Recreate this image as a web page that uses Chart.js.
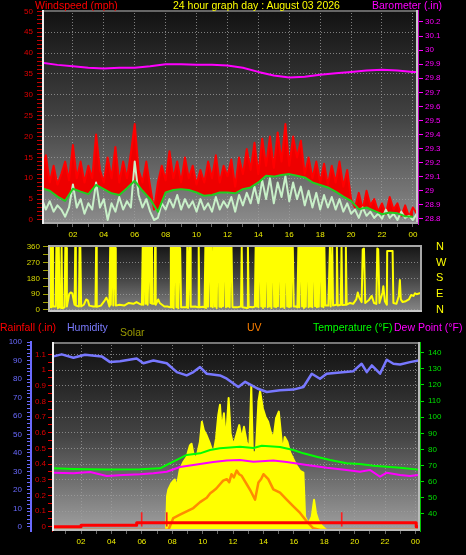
<!DOCTYPE html>
<html>
<head>
<meta charset="utf-8">
<title>24 hour graph</title>
<script src="https://cdn.jsdelivr.net/npm/chart.js@4.4.1/dist/chart.umd.min.js"></script>
<style>
  body { margin: 0; background: #000; }
  #page { position: relative; width: 466px; height: 555px; overflow: hidden; background: #000; font-family: "Liberation Sans", Arial, sans-serif; }
  canvas { position: absolute; left: 0; }
  .title { position: absolute; font-size: 10.5px; line-height: 12px; white-space: nowrap; }
</style>
</head>
<body>
<div id="page">
  <canvas id="wind-chart" width="466" height="242" style="top:0px"></canvas>
  <canvas id="dir-chart" width="466" height="78" style="top:240px"></canvas>
  <canvas id="sky-chart" width="466" height="219" style="top:336px"></canvas>

  <div class="title" style="left:35px;top:-1px;color:#ff0000">Windspeed (mph)</div>
  <div class="title" style="left:173px;top:-1px;color:#ffff00">24 hour graph day : August 03 2026</div>
  <div class="title" style="left:372px;top:-1px;color:#ff00ff">Barometer (.in)</div>

  <div class="title" style="left:0px;top:321px;color:#ff0000">Rainfall (.in)</div>
  <div class="title" style="left:67px;top:321px;color:#7b7bff">Humidity</div>
  <div class="title" style="left:120px;top:326px;color:#9a9a00">Solar</div>
  <div class="title" style="left:247px;top:321px;color:#ff8000">UV</div>
  <div class="title" style="left:313px;top:321px;color:#00ff00">Temperature (°F)</div>
  <div class="title" style="left:394px;top:321px;color:#ff00ff">Dew Point (°F)</div>
</div>

<script>
// ---------- tick labels ----------
const hourLabels = ['02', '04', '06', '08', '10', '12', '14', '16', '18', '20', '22', '00'];
const windTicks = [0, 5, 10, 15, 20, 25, 30, 35, 40, 45, 50];
const baroTicks = [28.8, 28.9, 29, 29.1, 29.2, 29.3, 29.4, 29.5, 29.6, 29.7, 29.8, 29.9, 30, 30.1, 30.2];
const dirTicks = [0, 90, 180, 270, 360];
const compassLabels = ['N', 'E', 'S', 'W', 'N'];
const tempTicks = [40, 50, 60, 70, 80, 90, 100, 110, 120, 130, 140];

// ---------- top panel: wind (mph) every 15 minutes ----------
const windHours = Array.from({ length: 98 }, (_, i) => i * 0.25);
const gustSpeed = [
  12, 15.5, 9, 13, 8.5, 11, 14, 9.5,
  18, 10, 14, 9, 13, 10, 20.5, 12,
  9, 15, 10, 17.5, 9, 14, 10, 16,
  23, 12, 9, 14, 8, 2.5, 9, 13,
  9.5, 16.5, 10, 14, 9, 15, 10, 13,
  8.5, 12, 9, 14, 10, 15.5, 9, 13,
  10.5, 14.5, 8, 15, 11, 17, 12, 18.5,
  11, 19.5, 13, 20, 12.5, 21, 14, 23,
  13, 20, 15, 19, 11, 15, 10, 14,
  9, 13.5, 8.5, 13, 9, 14, 8, 12,
  5, 3, 6.5, 2.5, 7, 3.5, 5, 2,
  4, 1.5, 5.5, 2.5, 4, 1, 3.5, 0.8,
  3, 1.5
];
const windSpeed = [
  5, 2.5, 4.5, 2, 3.5, 2.5, 0.8, 3,
  8.5, 3, 5, 1.5, 4, 2.5, 9, 3,
  5, 0, 4, 2, 5.5, 2.5, 4.5, 3,
  14, 6, 3, 5, 2, 0, 0.5, 4,
  2.5, 5, 3, 6, 2.5, 5, 3, 4.5,
  2, 5, 2.5, 4, 2, 5.5, 2.5, 4.5,
  3, 5.5, 2, 6, 3.5, 6.5, 4, 8,
  4, 9.5, 5, 10, 4, 9, 5.5, 10.5,
  4.5, 9, 5, 8, 3.5, 7, 3, 6.5,
  2.5, 6, 3, 5.5, 2.5, 5, 2, 4,
  1.5, 2.5, 0.5, 3, 1, 2, 0.5, 1.5,
  0.3, 2.5, 0.5, 1.5, 0, 2, 0.5, 1,
  0, 1.5
];
// average speed every 30 minutes
const avgHours = Array.from({ length: 49 }, (_, i) => i * 0.5);
const avgSpeed = [
  7.6, 7.0, 5.6, 4.6, 7.5, 6.8, 6.2, 8.4, 7.4, 6.4, 6.0, 7.6,
  9.4, 7.0, 5.0, 2.0, 6.6, 7.2, 7.4, 7.2, 6.6, 5.8, 6.0, 6.6,
  6.6, 6.4, 7.4, 7.8, 9.0, 10.6, 10.4, 10.8, 11.0, 10.6, 10.2, 9.0,
  8.4, 7.8, 6.8, 5.6, 4.6, 2.6, 3.0, 2.2, 1.4, 1.8, 1.6, 0.9,
  0.8
];
// barometer (in)
const baroHours = [0, 1, 2, 3, 4, 5, 6, 7, 8, 9, 10, 11, 12, 13, 14, 15, 16, 17, 18, 19, 20, 21, 22, 23, 24, 24.3];
const baroPressure = [29.91, 29.895, 29.885, 29.875, 29.87, 29.875, 29.875, 29.885, 29.9, 29.9, 29.895, 29.895, 29.89,
  29.875, 29.845, 29.82, 29.805, 29.81, 29.825, 29.835, 29.845, 29.855, 29.86, 29.855, 29.845, 29.845];

// ---------- middle panel: wind direction [hour, degrees] ----------
const dirLog = [
  [0.45, 15], [0.5, 358], [0.55, 352], [0.6, 15], [0.66, 358], [0.7, 20], [0.88, 20], [0.92, 358], [0.98, 352], [1.02, 10],
  [1.08, 358], [1.12, 15], [1.22, 12], [1.26, 355], [1.3, 10], [1.45, 15], [1.5, 358], [1.55, 352], [1.6, 20],
  [1.75, 90], [1.85, 100], [1.95, 95], [2.05, 50], [2.1, 30],
  [2.14, 358], [2.18, 25], [2.38, 20], [2.42, 358], [2.47, 355], [2.52, 20], [2.7, 30], [2.85, 60], [2.95, 55], [3.05, 25],
  [3.3, 20], [3.45, 20], [3.49, 358], [3.53, 18], [3.8, 25], [4.05, 55], [4.15, 70], [4.25, 50], [4.35, 20],
  [4.4, 358], [4.44, 30], [4.5, 358], [4.56, 356], [4.6, 25], [4.66, 358], [4.72, 352], [4.76, 25],
  [5.0, 30], [5.3, 25], [5.6, 40], [5.9, 35], [6.1, 45], [6.3, 35], [6.45, 30],
  [6.5, 358], [6.55, 30], [6.6, 358], [6.66, 354], [6.7, 35], [6.78, 358], [6.82, 30], [6.9, 358], [6.95, 354], [7.0, 40],
  [7.06, 358], [7.1, 35], [7.25, 35], [7.3, 358], [7.34, 30], [7.5, 60], [7.6, 40], [7.9, 20], [8.1, 20],
  [8.28, 15], [8.32, 358], [8.38, 15], [8.44, 358], [8.5, 10], [8.56, 358], [8.62, 354], [8.68, 15], [8.74, 358], [8.8, 10],
  [8.86, 358], [8.92, 352], [8.98, 15],
  [9.2, 15], [9.35, 15], [9.38, 358], [9.43, 12], [9.52, 358], [9.56, 355], [9.6, 18], [9.9, 20], [10.08, 15], [10.12, 358],
  [10.16, 15], [10.4, 18],
  [10.5, 15], [10.55, 358], [10.6, 12], [10.66, 358], [10.72, 18], [10.78, 358], [10.84, 355], [10.9, 20], [10.96, 358],
  [11.02, 15], [11.1, 358], [11.16, 20], [11.22, 358], [11.28, 12], [11.34, 358], [11.4, 355], [11.46, 18], [11.52, 358],
  [11.58, 15], [11.64, 358], [11.7, 22], [11.76, 358], [11.82, 355], [11.88, 15], [11.94, 358], [12.0, 20], [12.06, 358],
  [12.12, 15], [12.18, 358], [12.24, 355], [12.3, 18], [12.36, 15],
  [12.6, 15], [12.85, 20], [12.9, 358], [12.95, 15], [13.25, 12], [13.3, 358], [13.35, 18], [13.6, 15], [13.75, 20],
  [13.8, 358], [13.86, 20], [13.92, 358], [13.98, 15], [14.04, 358], [14.1, 355], [14.16, 20], [14.22, 358], [14.28, 12],
  [14.34, 358], [14.4, 18], [14.46, 358], [14.52, 355], [14.58, 15], [14.64, 358], [14.7, 20], [14.76, 358], [14.82, 12],
  [14.88, 358], [14.94, 355], [15.0, 18], [15.06, 358], [15.12, 15], [15.18, 358], [15.24, 22], [15.3, 358], [15.36, 355],
  [15.42, 15], [15.48, 358], [15.54, 18], [15.6, 358], [15.66, 12], [15.72, 358], [15.78, 355], [15.84, 20], [15.9, 358],
  [15.96, 15], [16.02, 358], [16.08, 18], [16.14, 358], [16.2, 355], [16.26, 20],
  [16.4, 20], [16.5, 15],
  [16.56, 358], [16.62, 15], [16.68, 358], [16.74, 355], [16.8, 20], [16.86, 358], [16.92, 12], [16.98, 358], [17.04, 18],
  [17.1, 358], [17.16, 355], [17.22, 15], [17.28, 358], [17.34, 20], [17.4, 358], [17.46, 15], [17.52, 358], [17.58, 355],
  [17.64, 22], [17.7, 358], [17.76, 15], [17.82, 358], [17.88, 18], [17.94, 358], [18.0, 355], [18.06, 20], [18.12, 358],
  [18.18, 15], [18.24, 358], [18.3, 25],
  [18.5, 25], [18.6, 358], [18.65, 20], [18.75, 358], [18.8, 25], [19.0, 30], [19.05, 358], [19.1, 25], [19.3, 30],
  [19.35, 358], [19.4, 28], [19.6, 30], [19.63, 358], [19.68, 30], [19.9, 40], [20.1, 35], [20.3, 60], [20.4, 100],
  [20.5, 70], [20.65, 45], [20.72, 345], [20.8, 350], [20.88, 40], [21.1, 55], [21.3, 80], [21.45, 40], [21.6, 35],
  [21.66, 350], [21.72, 345], [21.8, 40], [22.0, 100], [22.05, 135], [22.15, 50], [22.28, 30], [22.3, 335], [22.45, 335],
  [22.65, 335], [22.7, 40], [22.9, 35], [23.05, 80], [23.12, 170], [23.18, 60], [23.3, 45], [23.5, 50], [23.7, 60],
  [23.85, 85], [24.0, 80], [24.1, 95], [24.2, 90], [24.4, 95], [24.55, 95]
];

// ---------- bottom panel ----------
const humHours = [0.18, 0.73, 1.5, 2.26, 3.36, 3.91, 4.57, 5.66, 6.1, 6.76, 7.64, 8.3, 8.95, 9.39, 9.83, 10.27, 11.14, 11.59,
  12.35, 12.8, 13.23, 13.6, 14.22, 15.09, 15.97, 16.63, 17.18, 17.72, 18.16, 19.91, 20.46, 20.8, 21.13, 21.67, 22.11, 22.55,
  22.99, 23.64, 24.19];
const humidity = [92.3, 93.4, 91.6, 93.2, 92.3, 89.2, 89.7, 91.2, 88.6, 90.1, 88.6, 83.8, 82.0, 83.8, 86.5, 82.9, 82.0, 80.2,
  75.7, 78.5, 76.6, 74.9, 73.0, 73.9, 74.3, 75.7, 82.9, 80.2, 82.9, 84.3, 88.3, 83.8, 87.4, 82.9, 90.5, 88.3,
  87.9, 89.2, 90.1];

const tempHours = [0.18, 1.5, 3.69, 5.88, 7.2, 7.64, 8.3, 8.95, 9.83, 10.49, 11.14, 12.46, 13.34, 13.89, 15.09, 15.97, 16.63,
  17.5, 18.38, 19.47, 20.35, 21.23, 22.11, 22.99, 24.19];
const temperature = [68.3, 67.9, 67.5, 67.7, 68.3, 70.4, 73.5, 76.6, 77.6, 79.7, 80.7, 81.7, 80.9, 82.3, 81.5, 79.7, 77.6,
  75.5, 73.5, 71.4, 71.0, 69.9, 69.3, 68.7, 67.5];

const dewHours = [0.18, 1.5, 2.6, 3.69, 4.79, 5.88, 6.76, 7.64, 8.51, 9.39, 10.7, 11.59, 12.46, 13.34, 14.65, 15.53, 16.85,
  18.16, 19.47, 20.35, 21.0, 21.67, 22.11, 22.99, 23.64, 24.19];
const dewPoint = [65.6, 65.2, 66.0, 63.6, 64.2, 64.6, 65.2, 66.2, 69.1, 70.4, 72.2, 73.1, 73.5, 72.4, 73.1, 72.2, 70.4,
  68.7, 67.3, 66.2, 67.3, 63.1, 65.6, 64.2, 63.6, 64.2];

const rainHours = [0.09, 2.0, 5.66, 24.05, 24.3];
const rainfall = [0.0, 0.01, 0.025, 0.0, 0.0];
const rateHours = [5.99, 7.64, 19.15];
const rainRate = [0.09, 0.09, 0.09];

const solarHours = [0.09, 7.6, 7.66, 7.74, 7.95, 8.17, 8.28, 8.5, 8.72, 8.94, 9.16, 9.27, 9.42, 9.6, 9.82, 9.95, 10.08,
  10.26, 10.48, 10.7, 10.88, 11.03, 11.14, 11.25, 11.4, 11.53, 11.71, 11.84, 12.02, 12.24, 12.41, 12.57, 12.72, 12.9,
  13.07, 13.2, 13.3, 13.5, 13.67, 13.78, 13.96, 14.13, 14.31, 14.48, 14.66, 14.83, 15.01, 15.14, 15.27, 15.4, 15.58,
  15.75, 15.97, 16.19, 16.41, 16.63, 16.74, 16.96, 17.18, 17.33, 17.46, 17.6, 17.82, 18.15, 24.3];
const solar = [0, 0, 180, 215, 251, 269, 224, 323, 360, 387, 450, 459, 396, 387, 468, 576, 531,
  504, 459, 405, 486, 612, 666, 531, 621, 468, 702, 513, 450, 511, 558, 486, 549, 468,
  432, 765, 414, 414, 684, 738, 648, 603, 576, 522, 486, 594, 630, 522, 414, 495, 468,
  414, 377, 342, 315, 305, 71, 35, 71, 161, 89, 53, 25, 0, 0];

const uvHours = [0.09, 7.75, 8.07, 8.51, 8.95, 9.39, 9.83, 10.27, 10.5, 10.7, 10.9, 11.14, 11.35, 11.59, 11.75, 11.9, 12.05,
  12.24, 12.4, 12.57, 12.9, 13.16, 13.45, 13.67, 13.85, 14.0, 14.32, 14.65, 15.09, 15.53, 15.97, 16.41, 16.85, 17.28,
  17.72, 24.3];
const uvIndex = [0, 0, 0.75, 0.96, 1.17, 1.38, 1.75, 2.02, 2.3, 2.45, 2.6, 2.87, 3.1, 3.19, 3.0, 3.5, 3.3,
  3.73, 3.5, 3.4, 2.87, 2.45, 1.91, 2.98, 3.2, 3.5, 3.19, 2.55, 2.34, 1.91, 1.49, 1.07, 0.54, 0.11,
  0, 0];


// ---------- helpers ----------
const toPoints = (xs, ys) => xs.map((x, i) => ({ x: x, y: ys[i] }));
const gridGrey = 'rgba(160,160,160,0.75)';
const hourTicks = Array.from({ length: 24 }, (_, i) => i + 1);

Chart.defaults.font.family = '"Liberation Sans", Arial, sans-serif';
Chart.defaults.font.size = 8;

// fixed axis sizes, and no extra label padding pushed into the layout
const fixWidth = w => a => { a.width = w; a.paddingTop = 0; a.paddingBottom = 0; };
const fixHeight = h => a => { a.height = h; a.paddingLeft = 0; a.paddingRight = 0; };

// gradient back + frame for each panel
const panelBack = {
  id: 'panelBack',
  beforeDraw(chart, args, opts) {
    const { ctx, chartArea: a } = chart;
    const g = ctx.createLinearGradient(0, a.top, 0, a.bottom);
    opts.stops.forEach(s => g.addColorStop(s[0], s[1]));
    ctx.save();
    ctx.fillStyle = g;
    ctx.fillRect(a.left, a.top, a.right - a.left, a.bottom - a.top);
    ctx.restore();
  },
  afterDraw(chart, args, opts) {
    const { ctx, chartArea: a } = chart;
    const w = opts.width || 1;
    const h = w / 2;
    const line = (c, x1, y1, x2, y2) => {
      ctx.strokeStyle = c;
      ctx.beginPath(); ctx.moveTo(x1, y1); ctx.lineTo(x2, y2); ctx.stroke();
    };
    ctx.save();
    ctx.lineWidth = w;
    line(opts.top, a.left, a.top + h, a.right, a.top + h);
    line(opts.right, a.right - h, a.top, a.right - h, a.bottom);
    line(opts.bottom, a.left, a.bottom - h, a.right, a.bottom - h);
    line(opts.left, a.left + h, a.top, a.left + h, a.bottom);
    ctx.restore();
  }
};

// hourly x axis shared by top and bottom panels
function hourAxis(min, max, height) {
  return {
    type: 'linear', min: min, max: max, offset: false,
    afterBuildTicks: a => { a.ticks = hourTicks.map(v => ({ value: v })); },
    afterFit: fixHeight(height),
    ticks: {
      autoSkip: false, maxRotation: 0, color: '#eeee00', padding: 3,
      callback: v => (v % 2 === 0 ? hourLabels[v / 2 - 1] : '')
    },
    grid: {
      offset: false,
      color: c => (c.tick && c.tick.value % 2 === 0 ? gridGrey : 'rgba(0,0,0,0)'),
      tickColor: '#666', tickLength: 3, tickBorderDash: []
    },
    border: { display: false, dash: [1, 2] }
  };
}

const common = {
  responsive: false,
  animation: false,
  events: [],
  elements: { point: { radius: 0 }, line: { tension: 0, borderJoinStyle: 'round' } }
};


// ------ TOP: WIND SPEED + BAROMETER ------
new Chart(document.getElementById('wind-chart'), {
  type: 'line',
  plugins: [panelBack],
  data: {
    datasets: [
      { label: 'Barometer', data: toPoints(baroHours, baroPressure), yAxisID: 'baro', borderColor: '#ff00ff', borderWidth: 2, order: 0 },
      { label: 'Average', data: toPoints(avgHours, avgSpeed), yAxisID: 'wind', borderColor: '#22cc22', borderWidth: 2, order: 1 },
      { label: 'Wind', data: toPoints(windHours, windSpeed), yAxisID: 'wind', borderColor: '#c8f0c8', borderWidth: 2, order: 2 },
      // gusts: red band filled down to the average line
      { label: 'Gust', data: toPoints(windHours, gustSpeed), yAxisID: 'wind', borderColor: '#ff0000', backgroundColor: '#ee0000', fill: 1, borderWidth: 2, order: 3 }
    ]
  },
  options: Object.assign({}, common, {
    layout: { padding: { top: 10 } },
    plugins: {
      legend: { display: false }, tooltip: { enabled: false },
      panelBack: {
        stops: [[0, '#121212'], [0.5, '#424242'], [1, '#8c8c8c']],
        top: '#666', right: '#c8c8c8', bottom: '#aaa', left: '#f0f0f0', width: 2
      }
    },
    scales: {
      x: hourAxis(0, 24.33, 18),
      wind: {
        type: 'linear', position: 'left', min: -0.96, max: 50.34,
        afterBuildTicks: a => { a.ticks = Array.from({ length: 51 }, (_, i) => ({ value: i })); },
        afterFit: fixWidth(42),
        ticks: { autoSkip: false, color: '#e00000', padding: 4, callback: v => (windTicks.includes(v) ? String(v) : '') },
        grid: {
          color: c => (c.tick && windTicks.includes(c.tick.value) ? gridGrey : 'rgba(0,0,0,0)'),
          tickColor: '#c00000', tickLength: 5, tickBorderDash: []
        },
        border: { display: false, dash: [1, 2] }
      },
      baro: {
        type: 'linear', position: 'right', min: 28.764, max: 30.285,
        afterBuildTicks: a => { a.ticks = baroTicks.map(v => ({ value: v })); },
        afterFit: fixWidth(48),
        ticks: { autoSkip: false, color: '#ff00ff', padding: 2, callback: v => String(v) },
        grid: { drawOnChartArea: false, tickColor: '#ff00ff', tickLength: 5 },
        border: { display: true, color: '#c000c0', width: 1 }
      }
    }
  })
});


// ------ MIDDLE: WIND DIRECTION ------
new Chart(document.getElementById('dir-chart'), {
  type: 'line',
  plugins: [panelBack],
  data: {
    datasets: [
      { label: 'Direction', data: dirLog.map(p => ({ x: p[0], y: p[1] })), yAxisID: 'dir', borderColor: '#ffff00', borderWidth: 2 }
    ]
  },
  options: Object.assign({}, common, {
    layout: { padding: { top: 5, bottom: 6 } },
    plugins: {
      legend: { display: false }, tooltip: { enabled: false },
      panelBack: {
        stops: [[0, '#151515'], [0.5, '#444'], [1, '#888']],
        top: '#a8a8a8', right: '#a8a8a8', bottom: '#c8c8c8', left: '#b8b8b8', width: 2
      }
    },
    scales: {
      x: { type: 'linear', min: 0.38, max: 24.55, display: false },
      dir: {
        type: 'linear', position: 'left', min: -11.4, max: 369.7,
        afterBuildTicks: a => { a.ticks = [0, 45, 90, 135, 180, 225, 270, 315, 360].map(v => ({ value: v })); },
        afterFit: fixWidth(48),
        ticks: { autoSkip: false, color: '#d8d800', padding: 3, callback: v => (dirTicks.includes(v) ? String(v) : '') },
        grid: {
          color: c => (c.tick && dirTicks.includes(c.tick.value) ? gridGrey : 'rgba(0,0,0,0)'),
          tickColor: '#a0a000', tickLength: 5, tickBorderDash: []
        },
        border: { display: false, dash: [1, 2] }
      },
      compass: {
        type: 'linear', position: 'right', min: -11.4, max: 369.7,
        afterBuildTicks: a => { a.ticks = dirTicks.map(v => ({ value: v })); },
        afterFit: fixWidth(44),
        ticks: { autoSkip: false, color: '#ffff00', padding: 0, font: { size: 11 }, callback: v => compassLabels[v / 90] },
        grid: { drawOnChartArea: false, drawTicks: true, tickLength: 14, tickColor: 'rgba(0,0,0,0)' },
        border: { display: false }
      }
    }
  })
});


// ------ BOTTOM: RAIN, HUMIDITY, SOLAR, UV, TEMPERATURE, DEW POINT ------
new Chart(document.getElementById('sky-chart'), {
  type: 'line',
  plugins: [panelBack],
  data: {
    datasets: [
      { label: 'Humidity', data: toPoints(humHours, humidity), yAxisID: 'hum', borderColor: '#7878ff', borderWidth: 2.5, order: 0 },
      { label: 'Rainfall', data: toPoints(rainHours, rainfall), yAxisID: 'rain', borderColor: '#ff0000', borderWidth: 3, stepped: true, order: 1 },
      { type: 'bar', label: 'Rain rate', data: toPoints(rateHours, rainRate), yAxisID: 'rain', backgroundColor: '#ff2020', barThickness: 1, order: 2 },
      { label: 'Temperature', data: toPoints(tempHours, temperature), yAxisID: 'temp', borderColor: '#00ff00', borderWidth: 2, order: 3 },
      { label: 'Dew Point', data: toPoints(dewHours, dewPoint), yAxisID: 'temp', borderColor: '#ff00ff', borderWidth: 2, order: 4 },
      { label: 'UV', data: toPoints(uvHours, uvIndex), yAxisID: 'uv', borderColor: '#ff8c00', borderWidth: 2.5, order: 5 },
      { label: 'Solar', data: toPoints(solarHours, solar), yAxisID: 'solar', borderColor: '#ffff00', backgroundColor: '#ffff00', fill: 'origin', borderWidth: 2, order: 6 }
    ]
  },
  options: Object.assign({}, common, {
    layout: { padding: { top: 6 } },
    plugins: {
      legend: { display: false }, tooltip: { enabled: false },
      panelBack: {
        stops: [[0, '#101010'], [0.5, '#444'], [1, '#a0a0a0']],
        top: '#777', right: '#bbb', bottom: '#bbb', left: '#f0f0f0', width: 2
      }
    },
    scales: {
      x: hourAxis(0.09, 24.3, 24),
      hum: {
        type: 'linear', position: 'left', weight: 2, min: -2.3, max: 100.1,
        afterBuildTicks: a => { a.ticks = Array.from({ length: 51 }, (_, i) => ({ value: i * 2 })); },
        afterFit: fixWidth(31),
        ticks: { autoSkip: false, color: '#6a6aff', padding: 5, callback: v => (v % 10 === 0 ? String(v) : '') },
        grid: { drawOnChartArea: false, tickColor: '#6a6aff', tickLength: 4 },
        border: { display: true, color: '#6a6aff', width: 2 }
      },
      rain: {
        type: 'linear', position: 'left', weight: 1, min: -0.0274, max: 1.1787,
        afterBuildTicks: a => { a.ticks = Array.from({ length: 23 }, (_, i) => ({ value: i * 0.05 })); },
        afterFit: fixWidth(21),
        ticks: {
          autoSkip: false, color: '#e00000', padding: 2,
          callback: v => (Math.round(v * 100) % 10 === 0 ? String(Math.round(v * 10) / 10) : '')
        },
        grid: {
          color: c => (c.tick && Math.round(c.tick.value * 100) % 10 === 0 ? gridGrey : 'rgba(0,0,0,0)'),
          tickColor: '#e00000', tickLength: 4, tickBorderDash: []
        },
        border: { display: true, color: '#d00000', width: 1, dash: [1, 2] }
      },
      temp: {
        type: 'linear', position: 'right', min: 29.46, max: 146.6,
        afterBuildTicks: a => { a.ticks = tempTicks.map(v => ({ value: v })); },
        afterFit: fixWidth(46),
        ticks: { autoSkip: false, color: '#00e000', padding: 4, callback: v => String(v) },
        grid: { drawOnChartArea: false, tickColor: '#00e000', tickLength: 4 },
        border: { display: true, color: '#00c000', width: 1 }
      },
      // solar and UV have no printed scale; their zero sits on the bottom edge
      solar: { type: 'linear', display: false, min: -5, max: 1000 },
      uv: { type: 'linear', display: false, min: -0.06, max: 11.787 }
    }
  })
});
</script>
</body>
</html>
